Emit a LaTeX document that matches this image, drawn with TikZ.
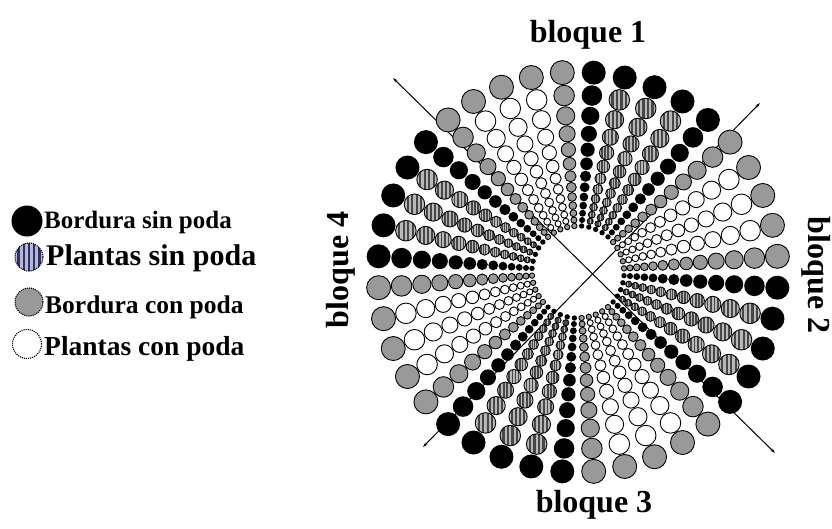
\documentclass[tikz,border=0pt]{standalone}
\usepackage{fontspec}
\setmainfont{Liberation Serif}
\usetikzlibrary{arrows.meta}
\definecolor{dotgray}{gray}{0.6}
\definecolor{stripebg}{gray}{0.72}
\definecolor{stripefg}{gray}{0.28}
\definecolor{legstripebg}{rgb}{0.72,0.72,0.80}
\definecolor{legstripefg}{rgb}{0.18,0.18,0.45}
\tikzset{
  diag/.style={line width=1pt, black, {Stealth[length=5pt,width=3pt]}-{Stealth[length=5pt,width=3pt]}},
  dotline/.style={draw=black, line width=0.9pt},
  legline/.style={draw=black, line width=1.1pt, densely dotted},
  lab/.style={font=\bfseries\fontsize{32}{36}\selectfont, inner sep=0pt},
  legA/.style={font=\bfseries\fontsize{25}{30}\selectfont, inner sep=0pt, anchor=base west},
  legB/.style={font=\bfseries\fontsize{30}{34}\selectfont, inner sep=0pt, anchor=base west}
}
\begin{document}
\begin{tikzpicture}[x=1pt,y=-1pt]
\useasboundingbox (0,0) rectangle (832,528);
% diagonals
\coordinate (d1a) at (393,78);
\coordinate (d1b) at (775,453);
\coordinate (d2a) at (760,103);
\coordinate (d2b) at (423,447);
\draw[diag] (d1a) -- (d1b);
\draw[diag] (d2a) -- (d2b);
% spokes
\foreach \kk in {0,...,39}{
  \pgfmathsetmacro{\ang}{4.5+9*\kk}
  \pgfmathtruncatemacro{\oct}{floor(\kk/5)}
  \pgfmathtruncatemacro{\mm}{mod(\kk,5)}
  \pgfmathtruncatemacro{\pr}{mod(\oct,2)==0 ? 1 : 0}
  \pgfmathtruncatemacro{\edg}{(\mm==0 || \mm==4) ? 1 : 0}
  \foreach \ii in {0,...,12}{
    \pgfmathsetmacro{\rad}{200*0.885^\ii}
    \pgfmathsetmacro{\rr}{(\ii==0 ? 0.060 : 0.058)*\rad}
    \pgfmathsetmacro{\px}{578+\rad*cos(\ang)}
    \pgfmathsetmacro{\py}{272-\rad*sin(\ang)}
    \pgfmathtruncatemacro{\bord}{(\edg==1 || \ii==0 || \ii==12) ? 1 : 0}
    \ifnum\bord=1
      \ifnum\pr=1
        \filldraw[fill=dotgray, dotline] (\px,\py) circle[radius=\rr pt];
      \else
        \fill[black] (\px,\py) circle[radius=\rr pt];
      \fi
    \else
      \ifnum\pr=1
        \filldraw[fill=white, dotline] (\px,\py) circle[radius=\rr pt];
      \else
        \pgfmathsetmacro{\lw}{0.22*\rr}
        \begin{scope}
          \clip (\px,\py) circle[radius=\rr pt];
          \fill[stripebg] (\px,\py) circle[radius=\rr pt];
          \foreach \s in {-0.66,-0.22,0.22,0.66}{
            \pgfmathsetmacro{\sx}{\px+\s*\rr}
            \pgfmathsetmacro{\ya}{\py-\rr}
            \pgfmathsetmacro{\yb}{\py+\rr}
            \draw[stripefg, line width=\lw pt] (\sx,\ya) -- (\sx,\yb);
          }
        \end{scope}
        \draw[dotline] (\px,\py) circle[radius=\rr pt];
      \fi
    \fi
  }
}
% block labels
\node[lab] (b1) at (588,35) {bloque 1};
\node[lab, rotate=-90] (b2) at (816,275) {bloque 2};
\node[lab] (b3) at (594,505) {bloque 3};
\node[lab, rotate=90] (b4) at (341,270) {bloque 4};
% legend
\fill[black] (27,221) circle[radius=15.5pt];
\begin{scope}
  \clip (29,257) circle[radius=14pt];
  \fill[legstripebg] (29,257) circle[radius=14pt];
  \foreach \s in {-10.5,-5.25,0,5.25,10.5}{
    \draw[legstripefg, line width=2.2pt] ({29+\s},240) -- ({29+\s},274);
  }
\end{scope}
\draw[legline] (29,257) circle[radius=14pt];
\filldraw[fill=dotgray, legline] (29,302) circle[radius=14pt];
\filldraw[fill=white, legline] (27,344) circle[radius=14.5pt];
\node[legA] (t1) at (44,228.5) {Bordura sin poda};
\node[legB] (t2) at (46,265.5) {Plantas sin poda};
\node[legA, font=\bfseries\fontsize{25.5}{30}\selectfont] (t3) at (45,313) {Bordura con poda};
\node[legA, font=\bfseries\fontsize{27.5}{30}\selectfont] (t4) at (44,355) {Plantas con poda};
\end{tikzpicture}
\end{document}
